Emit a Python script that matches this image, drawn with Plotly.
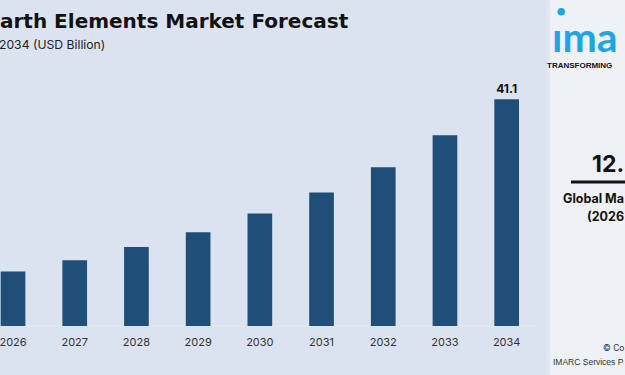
import plotly.graph_objects as go

years = ["2026", "2027", "2028", "2029", "2030", "2031", "2032", "2033", "2034"]
values = [9.9, 11.9, 14.3, 17.0, 20.4, 24.2, 28.8, 34.6, 41.1]
labels = ["", "", "", "", "", "", "", "", "41.1"]

title_text = "arth Elements Market Forecast"
subtitle_text = "2034 (USD Billion)"

W, H = 625, 375
L, R, T, B = 0, 77, 60, 49
PW, PH = W - L - R, H - T - B

def px(x):
    return (x - L) / PW

def py(y):
    return (H - B - y) / PH

BG = "#dbe3f1"
BAR = "#1f4e79"
LOGO = "#1ea5e6"

fig = go.Figure()
fig.add_trace(go.Bar(
    x=years, y=values, marker_color=BAR, marker_line_width=0,
    text=labels, textposition="outside", cliponaxis=False,
    textfont=dict(family="Inter, Arial", size=12, color="#111111", weight="bold"),
    width=0.4,
))

shapes = [
    dict(type="line", xref="paper", yref="paper", x0=0, x1=px(540), y0=0, y1=0,
         line=dict(color="#e3e9f4", width=1), layer="below"),
    dict(type="rect", xref="paper", yref="paper", x0=px(547), x1=px(626), y0=py(376), y1=py(-1),
         fillcolor="#eef2f7", line_width=0, layer="above"),
    dict(type="rect", xref="paper", yref="paper", x0=px(547), x1=px(550), y0=py(376), y1=py(-1),
         fillcolor="#e2e8f1", line_width=0, layer="above"),
    dict(type="line", xref="paper", yref="paper", x0=px(571), x1=px(626), y0=py(182), y1=py(182),
         line=dict(color="#111111", width=3), layer="above"),
    dict(type="circle", xref="paper", yref="paper", x0=px(557.5), x1=px(565), y0=py(15.5), y1=py(8),
         fillcolor=LOGO, line_width=0, layer="above"),
]

def ann(text, x, y, size, color="#111111", bold=False, xanchor="left", family="Inter, Arial"):
    return dict(text=text, x=px(x), y=py(y), xref="paper", yref="paper", showarrow=False,
                xanchor=xanchor, yanchor="middle", borderpad=0,
                font=dict(family=family, size=size, color=color, weight="bold" if bold else "normal"))

annotations = [
    ann(title_text, -1, 21, 20, bold=True, family="DejaVu Sans, Arial"),
    ann(subtitle_text, -2, 44, 12.2, color="#222222"),
    ann("ıma", 551, 36, 41, color=LOGO, bold=True, family="Lato, Arial"),
    ann("TRANSFORMING", 546, 65, 8, bold=True, family="Arial"),
    ann("12.", 625, 164, 23, bold=True, xanchor="right"),
    ann("Global Ma", 625, 199, 12.5, bold=True, xanchor="right"),
    ann("(2026", 625, 216, 12.5, bold=True, xanchor="right"),
    ann("© Co", 625, 348, 8.5, color="#333333", xanchor="right"),
    ann("IMARC Services P", 625, 362, 8.5, color="#333333", xanchor="right", family="Arial"),
]

fig.update_layout(
    width=W, height=H,
    margin=dict(l=L, r=R, t=T, b=B, pad=0),
    paper_bgcolor=BG, plot_bgcolor=BG,
    showlegend=False,
    bargap=0.6,
    shapes=shapes,
    annotations=annotations,
    xaxis=dict(type="category", range=[-0.211, 8.67], showgrid=False, zeroline=False,
               showline=False, ticks="outside", ticklen=6, tickcolor="rgba(0,0,0,0)",
               tickfont=dict(family="Inter, Arial", size=11, color="#333333")),
    yaxis=dict(range=[0, 48.22], visible=False, showgrid=False, zeroline=False),
)

fig.write_html("out.html", config={"displayModeBar": False},
               post_script="document.body.style.margin='0';document.body.style.overflow='hidden';")
